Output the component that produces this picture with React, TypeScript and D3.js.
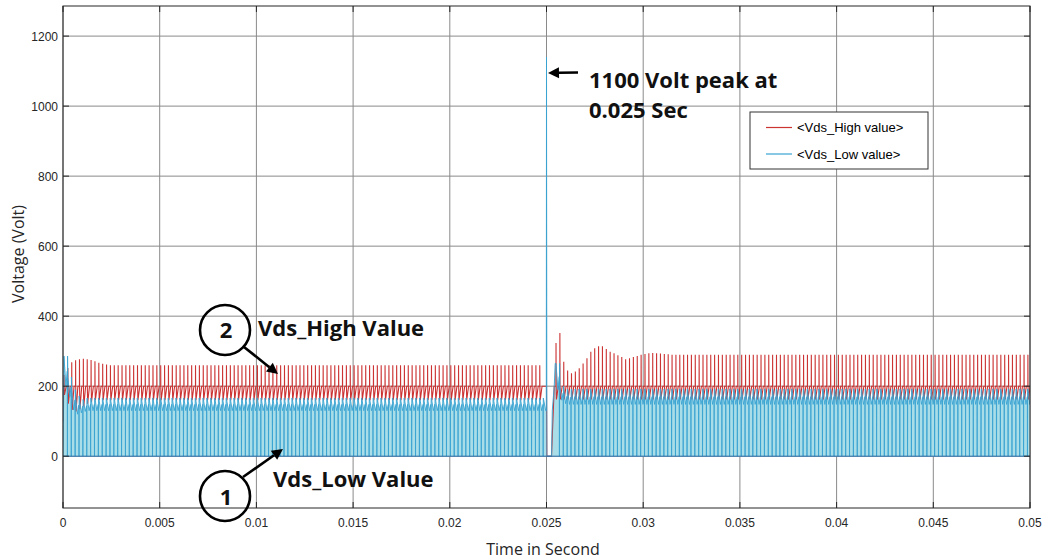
import React from 'react'
import * as d3 from 'd3'

const W = 1044
const H = 560
const plot = { left: 63, right: 1030, top: 6, bottom: 508 }

const xTicks = [0, 0.005, 0.01, 0.015, 0.02, 0.025, 0.03, 0.035, 0.04, 0.045, 0.05]
const xTickLabels = ['0', '0.005', '0.01', '0.015', '0.02', '0.025', '0.03', '0.035', '0.04', '0.045', '0.05']
const yTicks = [0, 200, 400, 600, 800, 1000, 1200]
const yTickLabels = ['0', '200', '400', '600', '800', '1000', '1200']

// switching pulse trains (before / after the 0.025 s event)
const switchPeriod = 0.0002
const trainStarts = [0.00005, 0.02549]
const trainPulses = [124, 123]

// Vds_High: spike tip of every pulse
const highStartPeaks = [232, 252, 268, 274, 277, 278, 277, 275, 271, 267, 264, 262]
const highTransientPeaks = [323, 352, 270, 245, 237, 242, 251, 265, 280, 298, 308, 314, 314, 306, 298, 294, 288, 283, 277, 280, 283, 286, 290, 292, 294, 295, 294, 293, 292, 291]
const highSteadyPeak = [260, 290]
const highBase = [200, 200]
const highStartDips = [175, 150, 132, 128, 134, 142, 150, 155]
const highDip = [160, 162]

// Vds_Low: top of each pulse (ringing high / low)
const lowStartTops = [286, 226, 190, 172, 162, 160]
const lowStartBottoms = [200, 170, 132, 120, 124, 128]
const lowTransientTops = [265, 200, 192, 190]
const lowTransientBottoms = [190, 160, 150, 148]
const lowSteadyTop = [166, 192]
const lowSteadyBottom = [130, 148]
const lowSpikePeak = 1140

// event at 0.025 s
const eventTimes = [0.02496, 0.02499, 0.025, 0.02502, 0.02526, 0.0253, 0.0254, 0.02545]
const eventHigh = [200, 200, 200, 0, 0, 60, 200, 200]
const eventLow = [130, 130, lowSpikePeak, 0, 0, 131, 200, 265]

const x = d3.scaleLinear().domain([0, 0.05]).range([plot.left, plot.right])
const y = d3.scaleLinear().domain([-148, 1286]).range([plot.bottom, plot.top])

type P = [number, number]

const buildHigh = (): P[] => {
  const pts: P[] = [[0, 100], [0.00003, 190]]
  trainPulses.forEach((n, tr) => {
    for (let k = 0; k < n; k++) {
      const t0 = trainStarts[tr] + k * switchPeriod
      const peak = tr === 0
        ? (k < highStartPeaks.length ? highStartPeaks[k] : highSteadyPeak[0])
        : (k < highTransientPeaks.length ? highTransientPeaks[k] : highSteadyPeak[1])
      const dip = tr === 0 && k < highStartDips.length ? highStartDips[k] : highDip[tr]
      const base = highBase[tr]
      pts.push([t0, base], [t0 + 0.01 * switchPeriod, peak], [t0 + 0.04 * switchPeriod, base],
        [t0 + 0.12 * switchPeriod, dip], [t0 + 0.6 * switchPeriod, base])
    }
    if (tr === 0) eventTimes.forEach((t, i) => pts.push([t, eventHigh[i]]))
  })
  pts.push([0.05, highBase[1]])
  return pts
}

const buildLow = (): P[] => {
  const pts: P[] = [[0, 0], [0.00002, 90]]
  trainPulses.forEach((n, tr) => {
    for (let k = 0; k < n; k++) {
      const t0 = trainStarts[tr] + k * switchPeriod
      let top = lowSteadyTop[tr]
      let bot = lowSteadyBottom[tr]
      if (tr === 0 && k < lowStartTops.length) { top = lowStartTops[k]; bot = lowStartBottoms[k] }
      if (tr === 1 && k < lowTransientTops.length) { top = lowTransientTops[k]; bot = lowTransientBottoms[k] }
      pts.push([t0, top], [t0 + 0.5 * switchPeriod, bot], [t0 + 0.86 * switchPeriod, (top + bot) / 2],
        [t0 + 0.88 * switchPeriod, 0], [t0 + 0.9 * switchPeriod, 0], [t0 + 0.93 * switchPeriod, top])
    }
    if (tr === 0) eventTimes.forEach((t, i) => pts.push([t, eventLow[i]]))
  })
  pts.push([0.05, lowSteadyBottom[1]])
  return pts
}

const highPts = buildHigh()
const lowPts = buildLow()

const line = d3.line<P>().x((d) => x(d[0])).y((d) => y(d[1]))
const area = d3.area<P>().x((d) => x(d[0])).y0(y(0)).y1((d) => y(d[1]))

const RED = '#cc3333'
const BLUE = '#3aa3d2'
const CYAN_FILL = '#a9dde7'
const annoFont = '"Open Sans", "DejaVu Sans", sans-serif'
const tickFont = "'Liberation Sans', Arial, sans-serif"

const Arrow = ({ x1, y1, x2, y2 }: { x1: number; y1: number; x2: number; y2: number }) => {
  const a = Math.atan2(y2 - y1, x2 - x1)
  const len = 11
  const wid = 5.5
  const bx = x2 - len * Math.cos(a)
  const by = y2 - len * Math.sin(a)
  const px = -Math.sin(a) * wid
  const py = Math.cos(a) * wid
  return (
    <g>
      <line x1={x1} y1={y1} x2={bx} y2={by} stroke="#000" strokeWidth={2.6} />
      <polygon points={`${x2},${y2} ${bx + px},${by + py} ${bx - px},${by - py}`} fill="#000" />
    </g>
  )
}

export default function App() {
  return (
    <div style={{ position: 'absolute', left: 0, top: 0 }}>
      <svg width={W} height={H} style={{ display: 'block', background: '#fff' }}>
        <rect x={plot.left} y={plot.top} width={plot.right - plot.left} height={plot.bottom - plot.top} fill="#fff" />
        {/* grid */}
        {xTicks.map((t) => (
          <line key={'gx' + t} x1={x(t)} x2={x(t)} y1={plot.top} y2={plot.bottom} stroke="#8a8a8a" strokeWidth={1} />
        ))}
        {yTicks.map((t) => (
          <line key={'gy' + t} x1={plot.left} x2={plot.right} y1={y(t)} y2={y(t)} stroke="#8a8a8a" strokeWidth={1} />
        ))}
        {/* series */}
        <g clipPath="url(#clip)">
          <path d={area(lowPts) || ''} fill={CYAN_FILL} />
          <path d={line(highPts) || ''} fill="none" stroke={RED} strokeWidth={1.1} />
          <path d={line(lowPts) || ''} fill="none" stroke={BLUE} strokeWidth={1} strokeOpacity={0.9} />
          <line x1={plot.left} x2={plot.right} y1={y(0)} y2={y(0)} stroke="#2f6fa8" strokeWidth={1} />
        </g>
        <defs>
          <clipPath id="clip">
            <rect x={plot.left} y={plot.top} width={plot.right - plot.left} height={plot.bottom - plot.top} />
          </clipPath>
        </defs>
        {/* box + ticks */}
        <rect x={plot.left} y={plot.top} width={plot.right - plot.left} height={plot.bottom - plot.top} fill="none" stroke="#262626" strokeWidth={1} />
        {xTicks.map((t) => (
          <g key={'tx' + t}>
            <line x1={x(t)} x2={x(t)} y1={plot.bottom} y2={plot.bottom - 6} stroke="#262626" />
            <line x1={x(t)} x2={x(t)} y1={plot.top} y2={plot.top + 6} stroke="#262626" />
          </g>
        ))}
        {yTicks.map((t) => (
          <g key={'ty' + t}>
            <line x1={plot.left} x2={plot.left + 6} y1={y(t)} y2={y(t)} stroke="#262626" />
            <line x1={plot.right} x2={plot.right - 6} y1={y(t)} y2={y(t)} stroke="#262626" />
          </g>
        ))}
        {xTicks.map((t, i) => (
          <text key={'lx' + t} x={x(t)} y={527} textAnchor="middle" fontSize={12} fontFamily={tickFont} fill="#262626">
            {xTickLabels[i]}
          </text>
        ))}
        {yTicks.map((t, i) => (
          <text key={'ly' + t} x={58} y={y(t) + 4.5} textAnchor="end" fontSize={12} fontFamily={tickFont} fill="#262626">
            {yTickLabels[i]}
          </text>
        ))}
        <text x={543} y={555} textAnchor="middle" fontSize={16} fontFamily={annoFont} fill="#262626">Time in Second</text>
        <text transform={`translate(24, 254) rotate(-90)`} textAnchor="middle" fontSize={16} fontFamily={annoFont} fill="#262626">Voltage (Volt)</text>

        {/* legend */}
        <rect x={750} y={112} width={178} height={57} fill="#fff" stroke="#333" strokeWidth={1} />
        <line x1={766} x2={792} y1={127.5} y2={127.5} stroke={RED} strokeWidth={1.2} />
        <line x1={766} x2={792} y1={154} y2={154} stroke={BLUE} strokeWidth={1.2} />
        <text x={797} y={132} fontSize={13} fontFamily={tickFont} fill="#000">{'<Vds_High value>'}</text>
        <text x={797} y={159} fontSize={13} fontFamily={tickFont} fill="#000">{'<Vds_Low value>'}</text>

        {/* annotations */}
        <Arrow x1={578} y1={72.5} x2={548} y2={73} />
        <text x={589} y={88} fontSize={22} fontWeight={700} fontFamily={annoFont} fill="#111">1100 Volt peak at</text>
        <text x={589} y={118} fontSize={22} fontWeight={700} fontFamily={annoFont} fill="#111">0.025 Sec</text>

        <circle cx={225} cy={330} r={25} fill="none" stroke="#000" strokeWidth={2.6} />
        <text x={226} y={338} textAnchor="middle" fontSize={22} fontWeight={700} fontFamily={annoFont} fill="#111">2</text>
        <Arrow x1={244} y1={347} x2={278} y2={374} />
        <text x={258} y={336} fontSize={22} fontWeight={700} fontFamily={annoFont} fill="#111">Vds_High Value</text>

        <circle cx={225} cy={496} r={25} fill="none" stroke="#000" strokeWidth={2.6} />
        <text x={226} y={505} textAnchor="middle" fontSize={22} fontWeight={700} fontFamily={annoFont} fill="#111">1</text>
        <Arrow x1={243} y1={477} x2={283} y2={449} />
        <text x={273} y={487} fontSize={22} fontWeight={700} fontFamily={annoFont} fill="#111">Vds_Low Value</text>
      </svg>
    </div>
  )
}
